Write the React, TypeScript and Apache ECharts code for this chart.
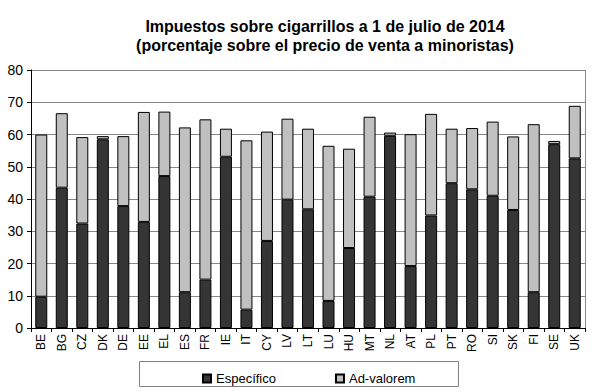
import React, { useEffect, useRef } from "react";
import * as echarts from "echarts";

const categories = ["BE","BG","CZ","DK","DE","EE","EL","ES","FR","IE","IT","CY","LV","LT","LU","HU","MT","NL","AT","PL","PT","RO","SI","SK","FI","SE","UK"];
const especifico = [9.7,43.5,32.4,58.5,37.8,32.9,47.1,11.1,15.0,53.1,5.7,27.0,39.8,36.8,8.4,24.8,40.7,59.6,19.2,34.9,44.9,43.0,41.0,36.6,11.1,57.0,52.6];
const total = [60.0,66.6,59.2,59.5,59.5,67.0,67.1,62.2,64.7,61.8,58.2,60.9,64.9,61.8,56.5,55.6,65.5,60.6,60.1,66.4,61.8,62.0,64.0,59.4,63.2,58.0,68.9];
const adValorem = total.map((t, i) => Math.round((t - especifico[i]) * 10) / 10);
const yTicks = [0, 80, 10];

export default function App() {
  const ref = useRef<HTMLDivElement>(null);
  useEffect(() => {
    const chart = echarts.init(ref.current!, null, { renderer: "svg" });
    const font = "Arial, 'Liberation Sans', sans-serif";
    chart.setOption({
      animation: false,
      textStyle: { fontFamily: font },
      graphic: [
        {
          type: "text",
          x: 325,
          y: 17,
          style: {
            text: "Impuestos sobre cigarrillos a 1 de julio de 2014\n(porcentaje sobre el precio de venta a minoristas)",
            fontFamily: font,
            fontWeight: "bold",
            fontSize: 16,
            lineHeight: 19,
            fill: "#000",
            textAlign: "center",
            textVerticalAlign: "top",
          },
        },
        {
          type: "rect",
          shape: { x: 139.5, y: 361.5, width: 319, height: 25 },
          style: { fill: "none", stroke: "#808080", lineWidth: 1 },
        },
        {
          type: "line",
          shape: { x1: 31, y1: 70.5, x2: 585.5, y2: 70.5 },
          style: { stroke: "#888", lineWidth: 1 },
        },
        {
          type: "line",
          shape: { x1: 585.5, y1: 70, x2: 585.5, y2: 328 },
          style: { stroke: "#888", lineWidth: 1 },
        },
      ],
      legend: {
        left: 197,
        top: 367,
        icon: "rect",
        itemWidth: 8,
        itemHeight: 8,
        itemGap: 59,
        textStyle: { fontSize: 13, color: "#000", fontFamily: font },
        data: ["Específico", "Ad-valorem"],
      },
      grid: { left: 31, right: 15, top: 70, bottom: 64 },
      xAxis: {
        type: "category",
        data: categories,
        axisLine: { lineStyle: { color: "#000", width: 1 } },
        axisTick: { show: true, length: 4, lineStyle: { color: "#000" } },
        axisLabel: { rotate: 90, fontSize: 12, color: "#000", margin: 6, fontFamily: font },
      },
      yAxis: {
        type: "value",
        min: yTicks[0],
        max: yTicks[1],
        interval: yTicks[2],
        axisLine: { show: true, lineStyle: { color: "#000", width: 1 } },
        axisTick: { show: true, length: 4, inside: false, lineStyle: { color: "#000" } },
        axisLabel: { fontSize: 14, color: "#000", margin: 8, fontFamily: font },
        splitLine: { lineStyle: { color: "#888", width: 1 } },
      },
      series: [
        {
          name: "Específico",
          type: "bar",
          stack: "t",
          data: especifico,
          barWidth: 12,
          itemStyle: { color: "#353535", borderColor: "#000", borderWidth: 1 },
        },
        {
          name: "Ad-valorem",
          type: "bar",
          stack: "t",
          data: adValorem,
          barWidth: 12,
          itemStyle: { color: "#c0c0c0", borderColor: "#000", borderWidth: 1 },
        },
      ],
    });
    return () => chart.dispose();
  }, []);
  return <div ref={ref} style={{ width: 600, height: 392, position: "absolute", left: 0, top: 0 }} />;
}
